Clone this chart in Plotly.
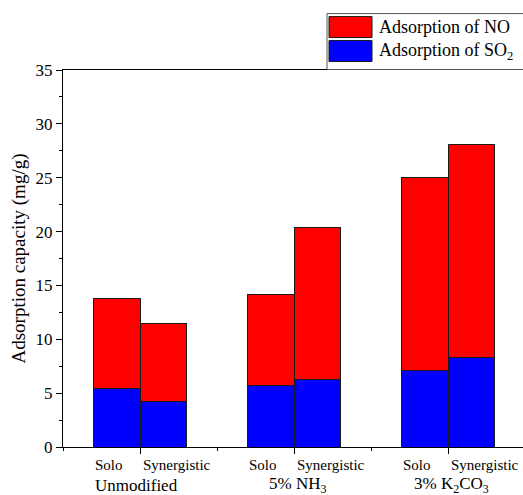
import plotly.graph_objects as go

groups = ["Unmodified", "5% NH<sub>3</sub>", "3% K<sub>2</sub>CO<sub>3</sub>"]
modes = ["Solo", "Synergistic"]
so2 = [5.42, 4.25, 5.67, 6.27, 7.1, 8.3]          # Adsorption of SO2 (mg/g)
no = [8.33, 7.2, 8.53, 14.13, 17.95, 19.8]        # Adsorption of NO (mg/g), stacked on SO2
y_ticks = [0, 5, 10, 15, 20, 25, 30, 35]

FONT = "Times New Roman, Liberation Serif, Tinos, serif"
BW = 0.3
xs = []
for gi in range(len(groups)):
    for mi in range(len(modes)):
        xs.append(gi + 1 + (mi - 0.5) * BW)

fig = go.Figure()
fig.add_trace(go.Bar(x=xs, y=so2, width=BW, name="Adsorption of SO<sub>2</sub>",
                     marker=dict(color="#0000FF", line=dict(color="#1a1a1a", width=1))))
fig.add_trace(go.Bar(x=xs, y=no, width=BW, name="Adsorption of NO",
                     marker=dict(color="#FF0000", line=dict(color="#1a1a1a", width=1))))

# plot area in pixels: x 63..523, y 69.5..447
L, R, T, B = 63, 523, 69.5, 447
def px(x):
    return (x - L) / (R - L)
def py(y):
    return (B - y) / (B - T)

annotations = []
for gi, g in enumerate(groups):
    c = gi + 1
    annotations.append(dict(x=c - 0.2, y=py(465), xref="x", yref="paper", text=modes[0],
                            showarrow=False, font=dict(family=FONT, size=15, color="black"),
                            xanchor="center", yanchor="middle"))
    annotations.append(dict(x=c + 0.243, y=py(465), xref="x", yref="paper", text=modes[1],
                            showarrow=False, font=dict(family=FONT, size=15, color="black"),
                            xanchor="center", yanchor="middle"))
    annotations.append(dict(x=c + (-0.02 if gi == 0 else 0.02), y=py(485.5), xref="x", yref="paper", text=g,
                            showarrow=False, font=dict(family=FONT, size=17, color="black"),
                            xanchor="center", yanchor="middle"))

# manual legend
shapes = [
    dict(type="rect", xref="paper", yref="paper", x0=px(327), x1=px(530), y0=py(69), y1=py(13),
         line=dict(color="#555555", width=1), fillcolor="white", layer="above"),
    dict(type="rect", xref="paper", yref="paper", x0=px(329), x1=px(372), y0=py(37), y1=py(16),
         line=dict(color="#1a1a1a", width=1), fillcolor="#FF0000", layer="above"),
    dict(type="rect", xref="paper", yref="paper", x0=px(329), x1=px(372), y0=py(61), y1=py(40),
         line=dict(color="#1a1a1a", width=1), fillcolor="#0000FF", layer="above"),
]
annotations.append(dict(x=px(377), y=py(26.5), xref="paper", yref="paper", text="Adsorption of NO",
                        showarrow=False, xanchor="left", yanchor="middle",
                        font=dict(family=FONT, size=18, color="black")))
annotations.append(dict(x=px(377), y=py(50.5), xref="paper", yref="paper", text="Adsorption of SO<sub>2</sub>",
                        showarrow=False, xanchor="left", yanchor="middle",
                        font=dict(family=FONT, size=18, color="black")))

fig.update_layout(
    width=523, height=495,
    margin=dict(l=L, r=0, t=T, b=495 - B),
    barmode="stack",
    showlegend=False,
    plot_bgcolor="white", paper_bgcolor="white",
    font=dict(family=FONT, color="black"),
    xaxis=dict(range=[0.5, 0.5 + (R - L) / 154.0], showticklabels=False,
               tickmode="array", tickvals=[1, 2, 3], ticks="outside", ticklen=6, tickwidth=1.3,
               tickcolor="black",
               minor=dict(tickmode="array", tickvals=[0.5, 1.5, 2.5, 3.5], ticks="outside",
                          ticklen=3, tickwidth=1.3, tickcolor="black"),
               showline=True, linecolor="black", linewidth=1.3, mirror=True,
               showgrid=False, zeroline=False),
    yaxis=dict(range=[0, 35], tickmode="array", tickvals=y_ticks, ticks="outside", ticklen=6,
               tickwidth=1.3, tickcolor="black",
               minor=dict(dtick=2.5, tick0=0, ticks="outside", ticklen=3, tickwidth=1.3,
                          tickcolor="black"),
               tickfont=dict(family=FONT, size=17, color="black"),
               showline=True, linecolor="black", linewidth=1.3, mirror=False,
               showgrid=False, zeroline=False,
               title=dict(text="Adsorption capacity (mg/g)", standoff=4,
                          font=dict(family=FONT, size=19, color="black"))),
    annotations=annotations,
    shapes=shapes,
)

fig.write_html("out.html")
